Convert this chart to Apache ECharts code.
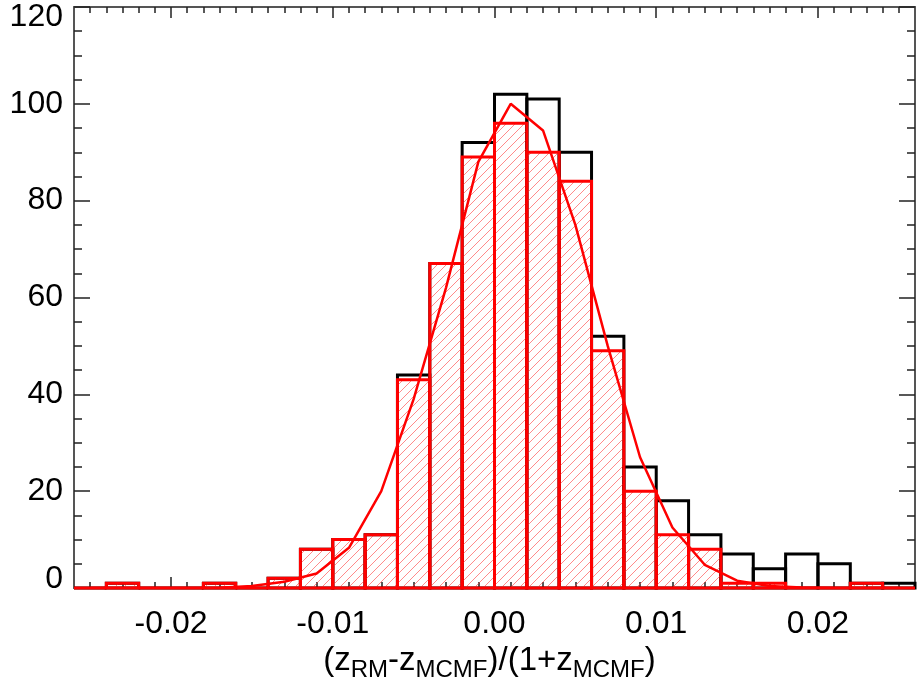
<!DOCTYPE html>
<html>
<head>
<meta charset="utf-8">
<script src="https://cdn.jsdelivr.net/npm/echarts@6.0.0/dist/echarts.min.js"></script>
<style>
  html, body { margin: 0; padding: 0; background: #fff; }
  #chart { width: 919px; height: 682px; }
</style>
</head>
<body>
<div id="chart"></div>
<script>
// histogram bins (edges), counts for all clusters (black) and the subset (red)
var binEdges = [-0.026, -0.024, -0.022, -0.020, -0.018, -0.016, -0.014, -0.012, -0.010,
  -0.008, -0.006, -0.004, -0.002, 0.000, 0.002, 0.004, 0.006, 0.008, 0.010,
  0.012, 0.014, 0.016, 0.018, 0.020, 0.022, 0.024, 0.026];
var blackCounts = [0, 1, 0, 0, 1, 0, 2, 8, 10, 11, 44, 67, 92, 102, 101, 90, 52, 25, 18, 11, 7, 4, 7, 5, 1, 1];
var redCounts = [0, 1, 0, 0, 1, 0, 2, 8, 10, 11, 43, 67, 89, 96, 90, 84, 49, 20, 11, 8, 1, 1, 0, 0, 1, 0];

// fitted curve, sampled at bin centres
var curveX = [-0.025, -0.023, -0.021, -0.019, -0.017, -0.015, -0.013, -0.011, -0.009, -0.007,
  -0.005, -0.003, -0.001, 0.001, 0.003, 0.005, 0.007, 0.009, 0.011, 0.013,
  0.015, 0.017, 0.019, 0.021, 0.023, 0.025];
var curveY = [0, 0, 0, 0, 0.05, 0.4, 1.3, 3, 8.3, 20, 39, 62, 88, 100, 94.5, 75, 50, 27, 12.5, 4.8,
  1.5, 0.4, 0.1, 0, 0, 0];

// axis ticks
var xMajor = [-0.02, -0.01, 0.00, 0.01, 0.02];
var xMinor = [];
for (var k = -25; k <= 25; k++) {
  if (k % 10 !== 0) xMinor.push(k / 1000);
}

var FONT = "'Liberation Sans', Arial, sans-serif";
var axisColor = '#555';
var tickColor = '#222';

function hatch() {
  var c = document.createElement('canvas');
  c.width = 9;
  c.height = 9;
  var ctx = c.getContext('2d');
  ctx.strokeStyle = 'rgba(255,60,60,0.75)';
  ctx.lineWidth = 0.8;
  ctx.beginPath();
  ctx.moveTo(0, 9); ctx.lineTo(9, 0);
  ctx.moveTo(-1, 1); ctx.lineTo(1, -1);
  ctx.moveTo(8, 10); ctx.lineTo(10, 8);
  ctx.stroke();
  return c;
}

function barData(counts) {
  return counts.map(function (n, i) {
    return [binEdges[i], binEdges[i + 1], n];
  });
}

function barRender(stroke, fill) {
  return function (params, api) {
    var p0 = api.coord([api.value(0), api.value(2)]);
    var p1 = api.coord([api.value(1), 0]);
    return {
      type: 'rect',
      shape: { x: p0[0], y: p0[1], width: p1[0] - p0[0], height: p1[1] - p0[1] },
      style: { fill: fill, stroke: stroke, lineWidth: 3 }
    };
  };
}

function xAxisDef(pos, major) {
  return {
    type: 'value',
    position: pos,
    min: -0.026,
    max: 0.026,
    axisLine: { show: major, onZero: false, lineStyle: { color: axisColor, width: 2 } },
    axisTick: {
      show: true,
      inside: true,
      length: major ? 11 : 6,
      customValues: major ? xMajor : xMinor,
      lineStyle: { color: tickColor, width: 1.5 }
    },
    axisLabel: { show: false },
    splitLine: { show: false }
  };
}

function yAxisDef(pos, labels) {
  return {
    type: 'value',
    position: pos,
    min: 0,
    max: 120,
    interval: 20,
    axisLine: { show: true, onZero: false, lineStyle: { color: axisColor, width: 2 } },
    axisTick: { show: true, inside: true, length: 16, lineStyle: { color: tickColor, width: 1.5 } },
    minorTick: { show: true, splitNumber: 4, length: 8, lineStyle: { color: tickColor, width: 1.5 } },
    axisLabel: {
      show: labels,
      margin: 11,
      color: '#000',
      fontSize: 32,
      fontFamily: FONT,
      formatter: function (v) {
        if (v === 0) return '{lo|0}';
        if (v === 120) return '{hi|120}';
        return String(v);
      },
      rich: {
        lo: { fontSize: 32, fontFamily: FONT, color: '#000', padding: [0, 0, 18, 0] },
        hi: { fontSize: 32, fontFamily: FONT, color: '#000', padding: [20, 0, 0, 0] }
      }
    },
    splitLine: { show: false }
  };
}

var bottomMajor = xAxisDef('bottom', true);
bottomMajor.axisLabel = {
  show: true,
  customValues: xMajor,
  margin: 20,
  color: '#000',
  fontSize: 32,
  fontFamily: FONT,
  formatter: function (v) { return v.toFixed(2); }
};
// subscripts: main text pinned to line top, subscript pushed down by padding
bottomMajor.name = '{m|(z}{s|RM}{m|-z}{s|MCMF}{m|)/(1+z}{s|MCMF}{m|)}';
bottomMajor.nameLocation = 'middle';
bottomMajor.nameGap = 54;
bottomMajor.nameTextStyle = {
  color: '#000',
  fontSize: 33,
  fontFamily: FONT,
  padding: [0, 10, 0, 0],
  rich: {
    m: { fontSize: 33, fontFamily: FONT, color: '#000', verticalAlign: 'top' },
    s: { fontSize: 24, fontFamily: FONT, color: '#000', verticalAlign: 'bottom', padding: [13, 0, 0, 0] }
  }
};

var chart = echarts.init(document.getElementById('chart'), null, { renderer: 'canvas' });
var redFill = { image: hatch(), repeat: 'repeat' };

chart.setOption({
  animation: false,
  backgroundColor: '#fff',
  grid: { left: 74, right: 4, top: 7, bottom: 94, containLabel: false, outerBoundsMode: 'none' },
  xAxis: [
    bottomMajor,
    xAxisDef('bottom', false),
    xAxisDef('top', true),
    xAxisDef('top', false)
  ],
  yAxis: [
    yAxisDef('left', true),
    yAxisDef('right', false)
  ],
  series: [
    {
      name: 'all',
      type: 'custom',
      renderItem: barRender('#000', 'none'),
      encode: { x: [0, 1], y: 2 },
      data: barData(blackCounts),
      z: 2
    },
    {
      name: 'subset',
      type: 'custom',
      renderItem: barRender('#f00', redFill),
      encode: { x: [0, 1], y: 2 },
      data: barData(redCounts),
      z: 3
    },
    {
      name: 'fit',
      type: 'line',
      showSymbol: false,
      symbol: 'none',
      data: curveX.map(function (x, i) { return [x, curveY[i]]; }),
      lineStyle: { color: '#f00', width: 2.5 },
      z: 4
    }
  ]
});
</script>
</body>
</html>
